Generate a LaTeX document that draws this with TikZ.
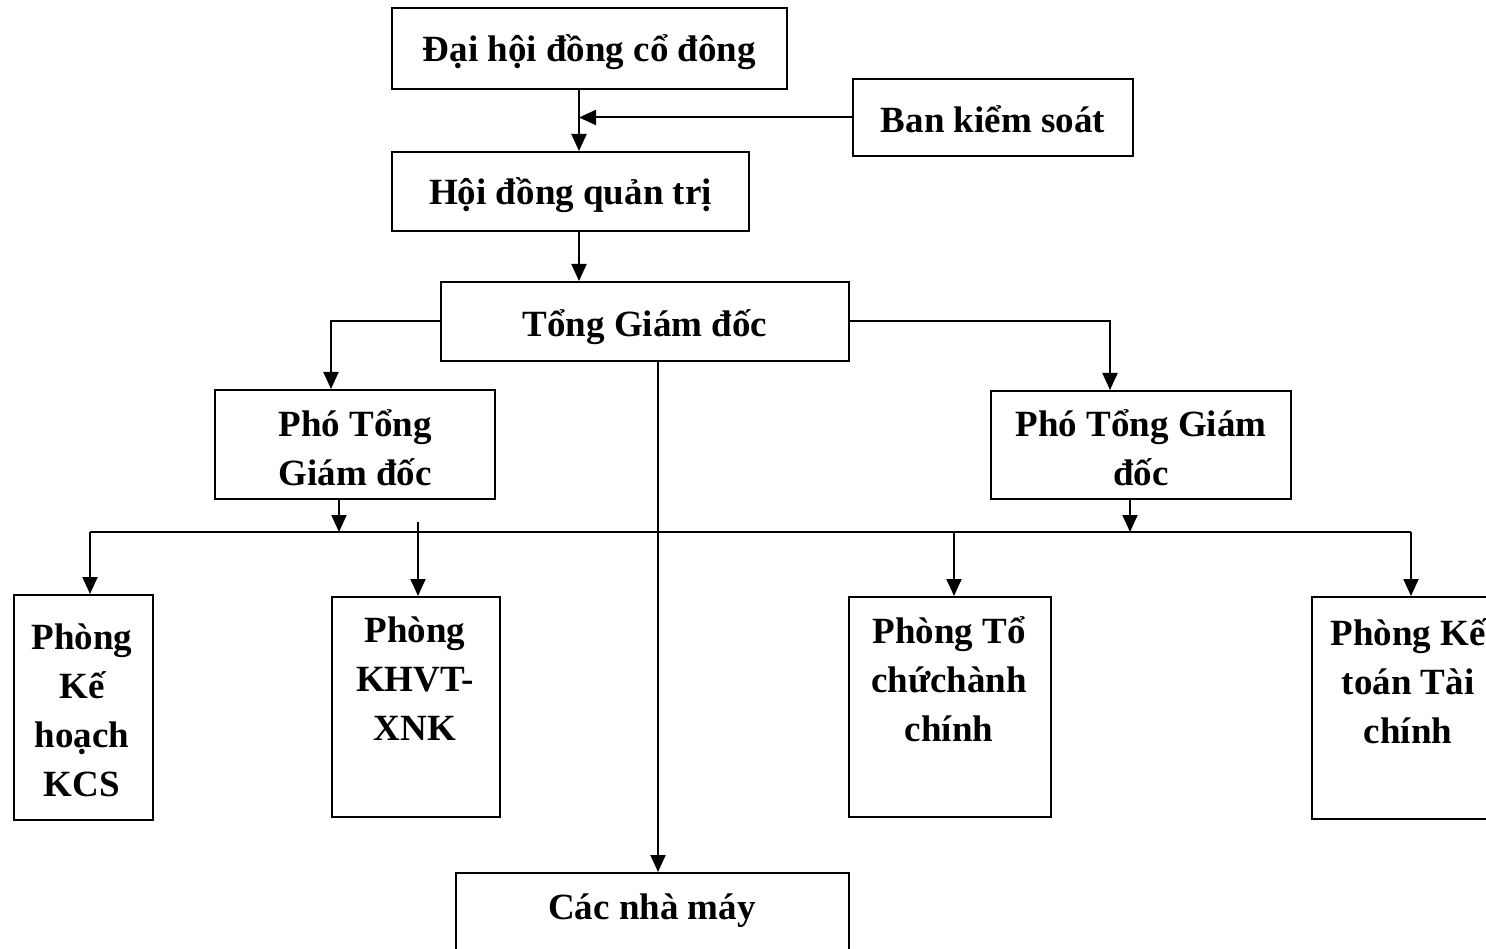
\documentclass[tikz,border=0pt]{standalone}
\usepackage{fontspec}
\setmainfont{Liberation Serif}
\usetikzlibrary{arrows.meta}
\begin{document}
\begin{tikzpicture}[x=1pt,y=-1pt,
  box/.style={draw, line width=2pt, inner sep=0pt, anchor=north west},
  lbl/.style={font=\fontsize{37}{49}\selectfont\bfseries, align=center, inner sep=0pt},
  link/.style={line width=2pt, -{Triangle[length=17pt,width=15pt]}},
  wire/.style={line width=2pt}]
\useasboundingbox (0,0) rectangle (1486,949);

% boxes
\node[box, minimum width=395pt, minimum height=81pt]  (dh)   at (391,7)   {};
\node[box, minimum width=280pt, minimum height=77pt]  (bks)  at (852,78)  {};
\node[box, minimum width=357pt, minimum height=79pt]  (hdqt) at (391,151) {};
\node[box, minimum width=408pt, minimum height=79pt]  (tgd)  at (440,281) {};
\node[box, minimum width=280pt, minimum height=109pt] (pl)   at (214,389) {};
\node[box, minimum width=300pt, minimum height=108pt] (pr)   at (990,390) {};
\node[box, minimum width=139pt, minimum height=225pt] (kcs)  at (13,594)  {};
\node[box, minimum width=168pt, minimum height=220pt] (khvt) at (331,596) {};
\node[box, minimum width=202pt, minimum height=220pt] (tc)   at (848,596) {};
\node[box, minimum width=200pt, minimum height=222pt] (kt)   at (1311,596) {};
\node[box, minimum width=393pt, minimum height=100pt] (nm)   at (455,872) {};

% labels
\node[lbl, yshift=-4pt] (dhT)   at (dh.center)   {Đại hội đồng cổ đông};
\node[lbl, yshift=-2pt] (bksT)  at (bks.center)  {Ban kiểm soát};
\node[lbl, yshift=-4pt] (hdqtT) at (hdqt.center) {Hội đồng quản trị};
\node[lbl, yshift=-6pt] (tgdT)  at (tgd.center)  {Tổng Giám đốc};
\node[lbl, yshift=-3pt] (plT)   at (pl.center)   {Phó Tổng\\Giám đốc};
\node[lbl, yshift=-3pt] (prT)   at (pr.center)   {Phó Tổng Giám\\đốc};
\node[lbl] (kcsT)  at (82,710)      {Phòng\\Kế\\hoạch\\KCS};
\node[lbl] (khvtT) at (415,679)     {Phòng\\KHVT-\\XNK};
\node[lbl] (tcT)   at (949,679)     {Phòng Tổ\\chứchành\\chính};
\node[lbl] (ktT)   at (1408,681)    {Phòng Kế\\toán Tài\\chính};
\node[lbl] (nmT)   at (652,911)     {Các nhà máy};

% routing points
\coordinate (spine) at (579,0);
\coordinate (trunk) at (658,0);
\coordinate (plIn)  at (331,0);
\coordinate (prIn)  at (1110,0);
\coordinate (plOut) at (339,0);
\coordinate (prOut) at (1130,0);
\coordinate (busL)  at (90,532);
\coordinate (busR)  at (1411,532);
\coordinate (khvtIn) at (418,522);
\coordinate (tcIn)  at (954,532);

% connectors
\draw[link] (dh.south -| spine) -- (hdqt.north -| spine);
\draw[link] (bks.west) -- (bks.west -| spine);
\draw[link] (hdqt.south -| spine) -- (tgd.north -| spine);
\draw[link] (tgd.west) -| (pl.north -| plIn);
\draw[link] (tgd.east) -| (pr.north -| prIn);
\draw[link] (tgd.south -| trunk) -- (nm.north -| trunk);
\draw[link] (pl.south -| plOut) -- (busL -| plOut);
\draw[link] (pr.south -| prOut) -- (busL -| prOut);
\draw[wire] (busL) -- (busR);
\draw[link] (busL) -- (kcs.north -| busL);
\draw[link] (khvtIn) -- (khvt.north -| khvtIn);
\draw[link] (tcIn) -- (tc.north -| tcIn);
\draw[link] (busR) -- (kt.north -| busR);
\end{tikzpicture}
\end{document}
